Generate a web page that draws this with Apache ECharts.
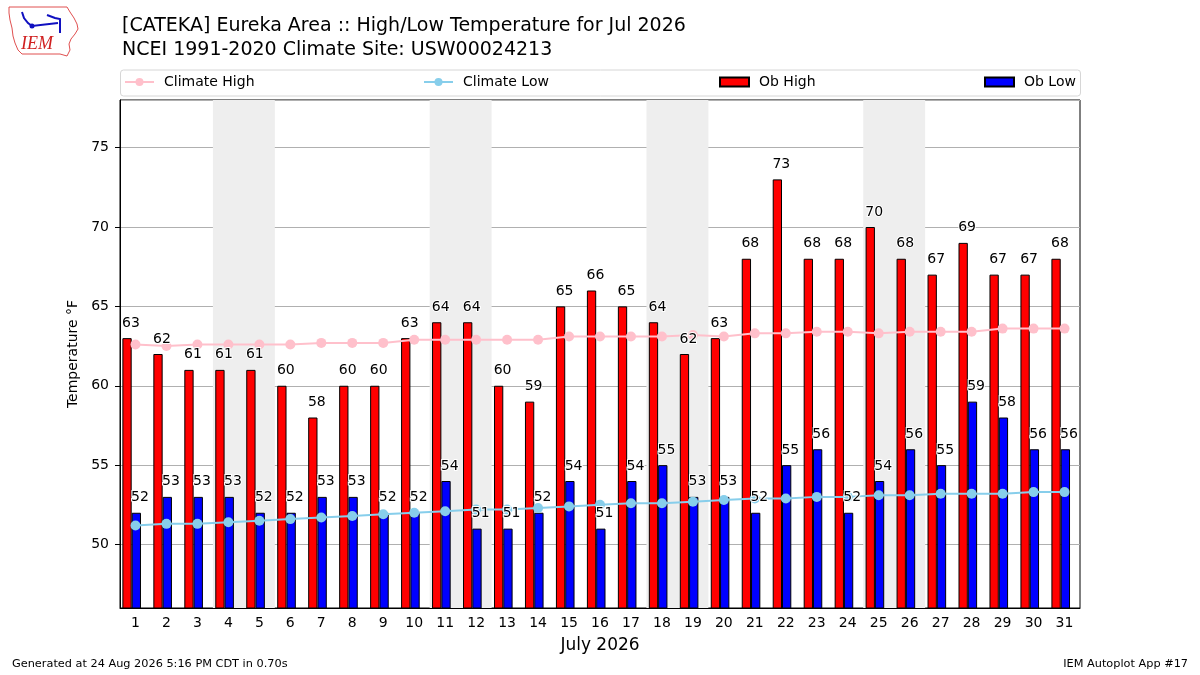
<!DOCTYPE html>
<html>
<head>
<meta charset="utf-8">
<script src="https://cdn.jsdelivr.net/npm/echarts@6/dist/echarts.min.js"></script>
<style>
html, body { margin: 0; padding: 0; background: #fff; }
#chart { width: 1200px; height: 675px; }
</style>
</head>
<body>
<div id="chart"></div>
<script>
// July 2026 days
var days = ['1','2','3','4','5','6','7','8','9','10','11','12','13','14','15','16',
            '17','18','19','20','21','22','23','24','25','26','27','28','29','30','31'];
var obHigh = [63,62,61,61,61,60,58,60,60,63,64,64,60,59,65,66,65,64,62,63,68,73,68,68,70,68,67,69,67,67,68];
var obLow  = [52,53,53,53,52,52,53,53,52,52,54,51,51,52,54,51,54,55,53,53,52,55,56,52,54,56,55,59,58,56,56];
var climateHigh = [62.6,62.5,62.6,62.6,62.6,62.6,62.7,62.7,62.7,62.9,62.9,62.9,62.9,62.9,63.1,63.1,
                   63.1,63.1,63.2,63.1,63.3,63.3,63.4,63.4,63.3,63.4,63.4,63.4,63.6,63.6,63.6];
var climateLow  = [51.2,51.3,51.3,51.4,51.5,51.6,51.7,51.8,51.9,52.0,52.1,52.2,52.2,52.3,52.4,52.5,
                   52.6,52.6,52.7,52.8,52.9,52.9,53.0,53.0,53.1,53.1,53.2,53.2,53.2,53.3,53.3];
// weekends shaded (day ranges)
var weekends = [[4,5],[11,12],[18,19],[25,26]];
var yTicks = [50,55,60,65,70,75];

var FONT = 'DejaVu Sans';
var myChart = echarts.init(document.getElementById('chart'));

// labels are drawn by hidden scatter series so they sit above the climate lines
function labelSeries(name, values, dx) {
    return {
        name: name, type: 'scatter', data: values, z: 6, silent: true,
        symbolSize: 0.1, itemStyle: { color: 'transparent', opacity: 1 },
        label: {
            show: true, position: 'top', distance: 8, offset: [dx, 0],
            color: '#000', opacity: 1, fontSize: 14, fontFamily: FONT,
            textBorderColor: '#fff', textBorderWidth: 2,
            formatter: function (p) { return String(p.value); }
        }
    };
}

var legendBase = {
    top: 75, padding: 0, itemWidth: 29, itemHeight: 10, itemGap: 10,
    textStyle: { fontSize: 14, fontFamily: FONT, color: '#000', padding: [0,0,0,5] }
};

var option = {
    animation: false,
    backgroundColor: '#fff',
    textStyle: { fontFamily: FONT },
    title: {
        text: '[CATEKA] Eureka Area :: High/Low Temperature for Jul 2026\nNCEI 1991-2020 Climate Site: USW00024213',
        left: 117, top: 9,
        textStyle: { fontSize: 19, lineHeight: 24, fontWeight: 'normal', color: '#000', fontFamily: FONT }
    },
    legend: [
        Object.assign({}, legendBase, { left: 124, data: ['Climate High'] }),
        Object.assign({}, legendBase, { left: 423, data: ['Climate Low'] }),
        Object.assign({}, legendBase, { left: 719, itemHeight: 9, icon: 'rect', data: ['Ob High'] }),
        Object.assign({}, legendBase, { left: 984, itemHeight: 9, icon: 'rect', data: ['Ob Low'] })
    ],
    grid: {
        left: 120, right: 120, top: 100, bottom: 67,
        show: true, borderColor: '#000', borderWidth: 1, backgroundColor: 'transparent'
    },
    xAxis: [{
        type: 'category', data: days,
        name: 'July 2026', nameLocation: 'middle', nameGap: 29,
        nameTextStyle: { fontSize: 17, color: '#000', fontFamily: FONT },
        axisLine: { lineStyle: { color: '#000' } },
        axisTick: { alignWithLabel: true, length: 5, lineStyle: { color: '#000' } },
        axisLabel: { color: '#000', fontSize: 14, margin: 8, fontFamily: FONT },
        splitLine: { show: false }
    }, {
        type: 'value', min: 0.5, max: 31.5, show: false
    }],
    yAxis: {
        type: 'value', min: 46, max: 78,
        name: 'Temperature °F', nameLocation: 'middle', nameGap: 32,
        nameTextStyle: { fontSize: 14, color: '#000', fontFamily: FONT },
        axisLine: { show: true, lineStyle: { color: '#000' } },
        axisTick: { show: true, length: 5, lineStyle: { color: '#000' } },
        axisLabel: {
            color: '#000', fontSize: 14, margin: 11, fontFamily: FONT,
            showMinLabel: false, showMaxLabel: false,
            formatter: function (v) { return yTicks.indexOf(v) >= 0 ? String(v) : ''; }
        },
        splitLine: { show: true, lineStyle: { color: '#b0b0b0', width: 1 } }
    },
    series: [
        {
            name: 'shade', type: 'line', xAxisIndex: 1, z: -1, silent: true,
            data: [[1, null]], symbol: 'none', lineStyle: { opacity: 0 },
            markArea: {
                silent: true,
                itemStyle: { color: '#eeeeee' },
                data: weekends.map(function (w) { return [{ xAxis: w[0] - 0.5 }, { xAxis: w[1] + 0.5 }]; })
            }
        },
        {
            name: 'Ob High', type: 'bar', data: obHigh, barWidth: 9.3, barGap: 0,
            itemStyle: { color: '#ff0000', borderColor: '#000', borderWidth: 1 }
        },
        {
            name: 'Ob Low', type: 'bar', data: obLow, barWidth: 9.3, barGap: 0,
            itemStyle: { color: '#0000ff', borderColor: '#000', borderWidth: 1 }
        },
        {
            // empty slot so the bar pair sits left of the tick like the original
            name: 'pad', type: 'bar', data: obLow.map(function () { return null; }),
            barWidth: 7.6, barGap: 0, silent: true, itemStyle: { color: 'transparent' }
        },
        {
            name: 'Climate High', type: 'line', data: climateHigh,
            symbol: 'circle', symbolSize: 10, z: 3,
            itemStyle: { color: '#ffc0cb' }, lineStyle: { color: '#ffc0cb', width: 2 }
        },
        {
            name: 'Climate Low', type: 'line', data: climateLow,
            symbol: 'circle', symbolSize: 10, z: 3,
            itemStyle: { color: '#87ceeb' }, lineStyle: { color: '#87ceeb', width: 2 }
        },
        labelSeries('highLabels', obHigh, -4.5),
        labelSeries('lowLabels', obLow, 4.5)
    ],
    graphic: [
        // legend frame
        { type: 'rect', left: 120, top: 69.5, z: -10,
          shape: { width: 960, height: 26, r: 3 },
          style: { fill: '#fff', stroke: '#d6d6d6', lineWidth: 1 } },
        // IEM logo (rough)
        { type: 'polygon', z: 10,
          shape: { points: [[9,7],[67,7],[70,12],[74,18],[77,24],[78,29],[75,34],[71,39],[69,44],[70,50],[67,56],
                            [60,54],[22,54],[18,50],[15,43],[13,36],[12,28],[10,20],[9,13]] },
          style: { fill: 'none', stroke: '#e05050', lineWidth: 1 } },
        { type: 'polyline', z: 10, shape: { points: [[22,12],[24,18],[28,23],[32,26],[58,23]] },
          style: { fill: 'none', stroke: '#1010c0', lineWidth: 2 } },
        { type: 'polyline', z: 10, shape: { points: [[47,15],[55,18],[60,19],[60,33]] },
          style: { fill: 'none', stroke: '#1010c0', lineWidth: 2 } },
        { type: 'circle', z: 10, shape: { cx: 32, cy: 26, r: 2.5 }, style: { fill: '#1010c0' } },
        { type: 'text', z: 10, left: 21, top: 35,
          style: { text: 'IEM', fill: '#d02020', font: 'italic 18px "Liberation Serif", serif' } },
        // footer
        { type: 'text', left: 12, top: 659,
          style: { text: 'Generated at 24 Aug 2026 5:16 PM CDT in 0.70s', fill: '#000', font: '11.3px "DejaVu Sans"' } },
        { type: 'text', right: 12, top: 659,
          style: { text: 'IEM Autoplot App #17', fill: '#000', font: '11.3px "DejaVu Sans"' } }
    ]
};
myChart.setOption(option);
</script>
</body>
</html>
